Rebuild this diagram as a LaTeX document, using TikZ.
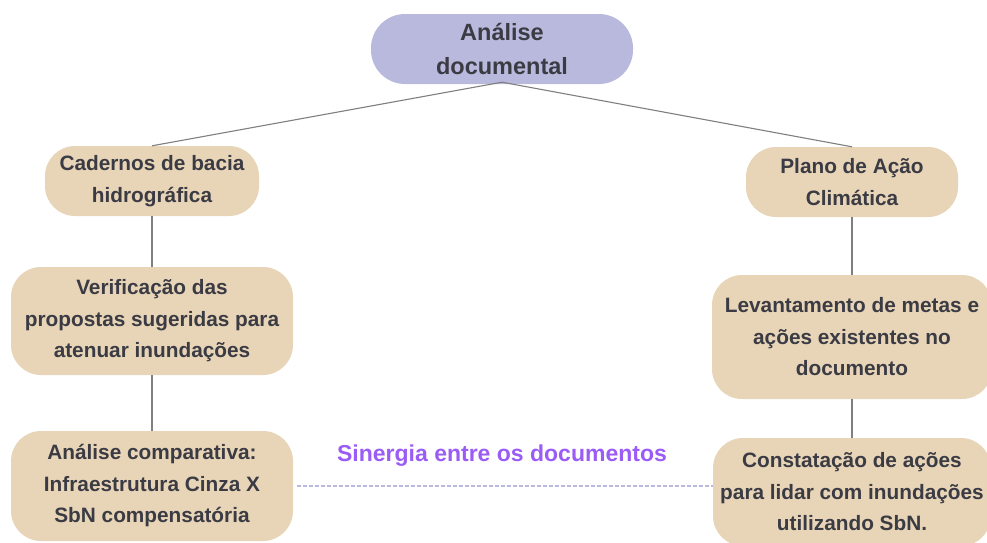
\documentclass[tikz,border=0pt]{standalone}
\usepackage{fontspec}
\setmainfont{Liberation Sans}
\definecolor{txt}{HTML}{3B3B44}
\definecolor{beige}{HTML}{E8D5B8}
\definecolor{lav}{HTML}{B9B9DD}
\definecolor{lnk}{HTML}{7F7F7F}
\definecolor{purp}{HTML}{9B5CF6}
\definecolor{dash}{HTML}{BAB7E0}
\begin{document}
\begin{tikzpicture}[x=1pt,y=-1pt,
  box/.style={rounded corners=30pt, fill=beige, draw=none, text=txt, align=center,
    font=\fontsize{20.8}{31.5}\selectfont\bfseries, inner sep=0pt},
  topbox/.style={box, fill=lav, rounded corners=34pt, font=\fontsize{23.5}{34}\selectfont\bfseries},
  link/.style={draw=lnk, line width=1.1pt},
  syn/.style={draw=dash, line width=1.3pt, dash pattern=on 4pt off 2pt}]
\useasboundingbox (0,0) rectangle (987,542);
\clip (0,0) rectangle (987,542);
\node[topbox, minimum width=262pt, minimum height=70pt] (top) at (502,49) {Análise\\documental};
\node[box, minimum width=214pt, minimum height=70pt] (cad) at (152,181) {Cadernos de bacia\\hidrográfica};
\node[box, minimum width=212pt, minimum height=70pt] (plano) at (852,182) {Plano de Ação\\Climática};
\node[box, minimum width=282pt, minimum height=108pt] (verif) at (152,321) {Verificação das\\propostas sugeridas para\\atenuar inundações};
\node[box, minimum width=280pt, minimum height=124pt] (lev) at (852,337) {Levantamento de metas e\\ações existentes no\\documento};
\node[box, minimum width=282pt, minimum height=110pt] (anal) at (152,486) {Análise comparativa:\\Infraestrutura Cinza X\\SbN compensatória};
\node[box, minimum width=278pt, minimum height=108pt] (const) at (852,492) {Constatação de ações\\para lidar com inundações\\utilizando SbN.};
\node[text=purp, font=\fontsize{23}{26}\selectfont\bfseries, inner sep=0pt] (sin) at (502,456) {Sinergia entre os documentos};
\draw[link] ([yshift=2pt]top.south) -- (cad.north);
\draw[link] ([yshift=2pt]top.south) -- (plano.north);
\draw[link] (cad.south) -- (verif.north);
\draw[link] (verif.south) -- (anal.north);
\draw[link] (plano.south) -- (lev.north);
\draw[link] (lev.south) -- (const.north);
\draw[syn] ([xshift=4pt]anal.east) -- (anal.east -| const.west);
\end{tikzpicture}
\end{document}
